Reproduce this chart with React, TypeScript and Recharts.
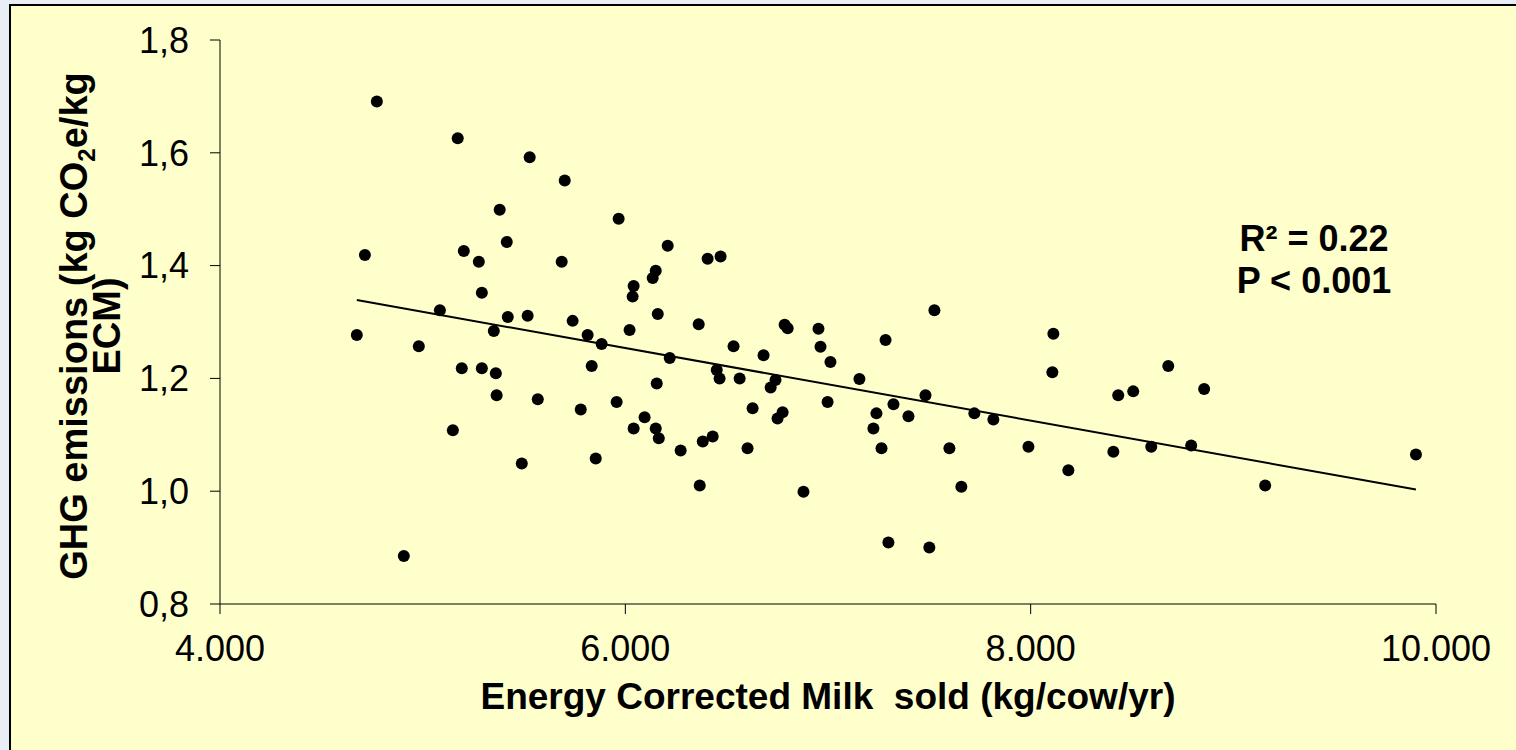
import { ScatterChart, Scatter, XAxis, YAxis, ReferenceLine, Label } from 'recharts';

// Energy corrected milk sold (kg/cow/yr), one entry per farm
const milkSold = [
  4675, 4715, 4774, 4907, 4981, 5085, 5149, 5173, 5193, 5203, 5277, 5292, 5292, 5351, 5361, 5365, 5380, 5415,
  5420, 5489, 5518, 5528, 5568, 5686, 5701, 5740, 5780, 5814, 5834, 5854, 5883, 5957, 5967, 6021, 6036, 6041,
  6041, 6095, 6135, 6150, 6150, 6155, 6160, 6165, 6209, 6219, 6273, 6362, 6367, 6382, 6406, 6431, 6451, 6465,
  6470, 6534, 6564, 6603, 6628, 6682, 6717, 6741, 6751, 6776, 6786, 6801, 6879, 6953, 6963, 6998, 7012, 7155,
  7224, 7239, 7264, 7284, 7298, 7323, 7397, 7481, 7500, 7525, 7599, 7658, 7722, 7816, 7989, 8107, 8112, 8186,
  8408, 8432, 8506, 8595, 8679, 8792, 8856, 9157, 9901,
];

// GHG emissions (kg CO2e / kg ECM), same order as milkSold
const ghgEmissions = [
  1.277, 1.419, 1.691, 0.885, 1.257, 1.321, 1.108, 1.626, 1.218, 1.426, 1.407, 1.352, 1.218, 1.284, 1.209, 1.17,
  1.499, 1.442, 1.309, 1.049, 1.311, 1.592, 1.163, 1.407, 1.551, 1.302, 1.145, 1.277, 1.222, 1.058, 1.261, 1.158,
  1.483, 1.286, 1.345, 1.364, 1.111, 1.131, 1.378, 1.391, 1.111, 1.191, 1.314, 1.094, 1.435, 1.236, 1.072, 1.296,
  1.01, 1.088, 1.412, 1.097, 1.215, 1.2, 1.416, 1.257, 1.2, 1.076, 1.147, 1.241, 1.184, 1.197, 1.129, 1.14,
  1.295, 1.289, 0.999, 1.288, 1.256, 1.158, 1.229, 1.199, 1.111, 1.138, 1.076, 1.268, 0.909, 1.154, 1.133, 1.17,
  0.9, 1.321, 1.076, 1.008, 1.138, 1.127, 1.079, 1.211, 1.279, 1.037, 1.07, 1.17, 1.177, 1.079, 1.222, 1.081,
  1.181, 1.01, 1.065,
];

// linear trend line end points
const trendX = [4675, 9901];
const trendY = [1.339, 1.003];

const xTicks = [4000, 6000, 8000, 10000];
const yTicks = [0.8, 1.0, 1.2, 1.4, 1.6, 1.8];

const FONT = '"Liberation Sans", Arial, sans-serif';

const points = milkSold.map((x, i) => ({ x, y: ghgEmissions[i] }));

function formatThousands(value: number): string {
  const k = Math.floor(value / 1000);
  return `${k}.${String(value % 1000).padStart(3, '0')}`;
}

function formatDecimal(value: number): string {
  return value.toFixed(1).replace('.', ',');
}

function Dot(props: any) {
  return <circle cx={props.cx} cy={props.cy} r={6} fill="#000" />;
}

function YTitle() {
  return (
    <g fontFamily={FONT} fontWeight="bold" fontSize={38} fill="#000">
      <text x={87} y={326} transform="rotate(-90, 87, 326)" textAnchor="middle">
        GHG emissions (kg CO
        <tspan dy={8} fontSize={24}>2</tspan>
        <tspan dy={-8}>e/kg</tspan>
      </text>
      <text x={120} y={326} transform="rotate(-90, 120, 326)" textAnchor="middle">
        ECM)
      </text>
    </g>
  );
}

function XTitle() {
  return (
    <text
      x={828}
      y={709}
      textAnchor="middle"
      fontFamily={FONT}
      fontWeight="bold"
      fontSize={37}
      fill="#000"
      style={{ whiteSpace: 'pre' }}
    >
      Energy Corrected Milk  sold (kg/cow/yr)
    </text>
  );
}

export default function App() {
  return (
    <div style={{ position: 'fixed', left: 0, top: 0, width: 1516, height: 750, background: '#e8eef3', overflow: 'hidden' }}>
      <div
        style={{
          position: 'absolute',
          left: 9,
          top: 4,
          width: 1520,
          height: 760,
          borderLeft: '2px solid #000',
          borderTop: '2px solid #000',
          background: '#ffffcc',
        }}
      />
      <div style={{ position: 'absolute', left: 0, top: 0 }}>
        <ScatterChart width={1516} height={750} margin={{ top: 40, right: 80, bottom: 86, left: 120 }}>
          <XAxis
            type="number"
            dataKey="x"
            domain={[4000, 10000]}
            ticks={xTicks}
            tickFormatter={formatThousands}
            height={60}
            tickSize={10}
            tickMargin={21}
            stroke="#000"
            tick={{ fill: '#000', fontSize: 36, fontFamily: FONT }}
          >
            <Label content={XTitle} />
          </XAxis>
          <YAxis
            type="number"
            dataKey="y"
            domain={[0.8, 1.8]}
            ticks={yTicks}
            tickFormatter={formatDecimal}
            width={100}
            tickSize={10}
            tickMargin={21}
            stroke="#000"
            tick={{ fill: '#000', fontSize: 36, fontFamily: FONT }}
          >
            <Label content={YTitle} />
          </YAxis>
          <ReferenceLine
            segment={[
              { x: trendX[0], y: trendY[0] },
              { x: trendX[1], y: trendY[1] },
            ]}
            stroke="#000"
            strokeWidth={2}
          />
          <Scatter data={points} shape={Dot} isAnimationActive={false} />
        </ScatterChart>
      </div>
      <div
        style={{
          position: 'absolute',
          left: 1214,
          top: 218,
          width: 200,
          textAlign: 'center',
          fontFamily: FONT,
          fontWeight: 'bold',
          fontSize: 36,
          lineHeight: '42px',
          color: '#000',
        }}
      >
        R² = 0.22
        <br />
        P &lt; 0.001
      </div>
    </div>
  );
}
